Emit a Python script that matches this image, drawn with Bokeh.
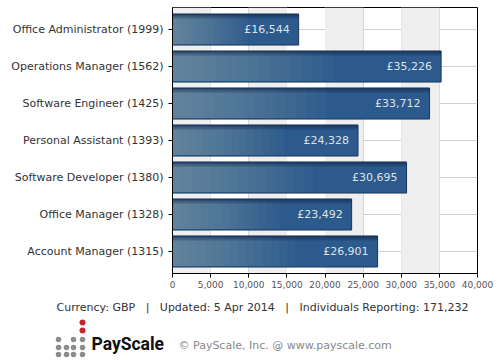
from bokeh.plotting import figure
from bokeh.models import (ColumnDataSource, FactorRange, Range1d, NumeralTickFormatter,
                          FixedTicker, BoxAnnotation)
from bokeh.transform import dodge
from bokeh.layouts import column
from bokeh.core.properties import value
from bokeh.embed import file_html
from bokeh.resources import INLINE

# ---------------- data ----------------
jobs = ["Office Administrator", "Operations Manager", "Software Engineer",
        "Personal Assistant", "Software Developer", "Office Manager", "Account Manager"]
reports = [1999, 1562, 1425, 1393, 1380, 1328, 1315]
salaries = [16544, 35226, 33712, 24328, 30695, 23492, 26901]
x_ticks = [0, 5000, 10000, 15000, 20000, 25000, 30000, 35000, 40000]
footer_parts = ["Currency: GBP", "Updated: 5 Apr 2014", "Individuals Reporting: 171,232"]
brand = "PayScale"
copyright_text = "\u00a9 PayScale, Inc. @ www.payscale.com"

labels = [f"{j} ({r})" for j, r in zip(jobs, reports)]
value_text = ["\u00a3{:,}".format(s) for s in salaries]
footer_text = "\u00a0\u00a0\u00a0|\u00a0\u00a0\u00a0".join(footer_parts)

FONT = "DejaVu Sans"

src = ColumnDataSource(dict(cat=labels, val=salaries, txt=value_text))

p = figure(width=500, height=293, output_backend="svg", toolbar_location=None,
           y_range=FactorRange(factors=labels[::-1], range_padding=0.095,
                               range_padding_units="absolute"),
           x_range=Range1d(x_ticks[0], x_ticks[-1]),
           min_border_left=172, min_border_right=23, min_border_top=7,
           min_border_bottom=20)
p.frame_align = False
p.outline_line_color = "black"
p.outline_line_width = 1
p.background_fill_color = "white"
p.border_fill_color = "white"

# alternating bands
for i in range(0, len(x_ticks) - 1, 2):
    p.add_layout(BoxAnnotation(left=x_ticks[i], right=x_ticks[i + 1],
                               fill_color="#efefef", fill_alpha=1,
                               line_color=None, level="underlay"))

# shadow (outside the frame)
p.add_layout(BoxAnnotation(left=478, right=485, top=15, bottom=280,
                           left_units="screen", right_units="screen",
                           top_units="screen", bottom_units="screen",
                           fill_color="#e6e6e6", fill_alpha=1, line_color=None))
p.add_layout(BoxAnnotation(left=180, right=478, top=274, bottom=280,
                           left_units="screen", right_units="screen",
                           top_units="screen", bottom_units="screen",
                           fill_color="#e6e6e6", fill_alpha=1, line_color=None))

# grid
p.xgrid.ticker = FixedTicker(ticks=x_ticks)
p.xgrid.grid_line_color = "#d0d0d0"
p.ygrid.grid_line_color = "#d0d0d0"

# bars
p.hbar(y="cat", right="val", left=0, height=0.84, source=src,
       fill_color="#2c5a8d", line_color="#1b3658", line_width=1)
# lighter left part (layered)
fracs = [0.04 * k for k in range(15, 0, -1)]
for fr in fracs:
    s = ColumnDataSource(dict(cat=labels, r=[v * fr for v in salaries]))
    p.hbar(y="cat", right="r", left=0, height=0.80, source=s,
           fill_color="#a3b0bf", fill_alpha=0.045, line_color=None)
# darker top strip
for h, a in [(0.12, 0.3), (0.06, 0.35)]:
    p.hbar(y=dodge("cat", 0.42 - h / 2, range=p.y_range), right="val", left=0,
           height=h, source=src, fill_color="#13294a", fill_alpha=a, line_color=None)

p.text(x="val", y="cat", text="txt", source=src, x_offset=-9,
       text_align="right", text_baseline="middle", text_color="#dce2ea",
       text_font=value(FONT), text_font_size="11px")

# axes
p.xaxis.ticker = FixedTicker(ticks=x_ticks)
p.xaxis.formatter = NumeralTickFormatter(format="0,0")
for ax in (p.xaxis[0], p.yaxis[0]):
    ax.axis_line_color = "black"
    ax.major_tick_line_color = "black"
    ax.major_tick_in = 0
    ax.major_tick_out = 4
    ax.minor_tick_line_color = None
    ax.major_label_text_font = FONT
p.xaxis.major_label_text_font_size = "9px"
p.yaxis.major_label_text_font_size = "11px"
p.xaxis.major_label_text_color = "#555555"
p.xaxis.major_label_standoff = 3
p.yaxis.major_label_text_color = "#333333"
p.yaxis.major_label_standoff = 5

# ---------------- footer ----------------
f = figure(width=500, height=67, output_backend="svg", toolbar_location=None,
           x_range=Range1d(0, 500), y_range=Range1d(67, 0),
           min_border=0, outline_line_color=None)
f.frame_align = False
f.axis.visible = False
f.grid.visible = False
f.border_fill_color = "white"
f.background_fill_color = "white"

f.text(x=[262], y=[14], text=[footer_text], text_align="center",
       text_baseline="middle", text_color="#333333",
       text_font=value(FONT), text_font_size="11px")

# logo dots
cols = [58, 66, 73, 82]
gx, gy = [], []
for ry, used in [(46, [0, 2, 3]), (54, [0, 1, 2, 3]), (61, [0, 1, 2, 3])]:
    for c in used:
        gx.append(cols[c]); gy.append(ry)
f.scatter(x=gx, y=gy, size=5.5, fill_color="#8c8c8c", line_color=None)
f.scatter(x=[82, 82], y=[29, 37], size=6, fill_color="#c1272d", line_color=None)

f.text(x=[91], y=[50], text=[brand], text_align="left", text_baseline="middle",
       text_color="#111111", text_font=value("Roboto"), text_font_style="bold",
       text_font_size="17.5px")
f.text(x=[178], y=[52], text=[copyright_text], text_align="left",
       text_baseline="middle", text_color="#888888",
       text_font=value(FONT), text_font_size="11px")

layout = column(p, f, spacing=0)
open("out.html", "w").write(file_html(layout, INLINE))
